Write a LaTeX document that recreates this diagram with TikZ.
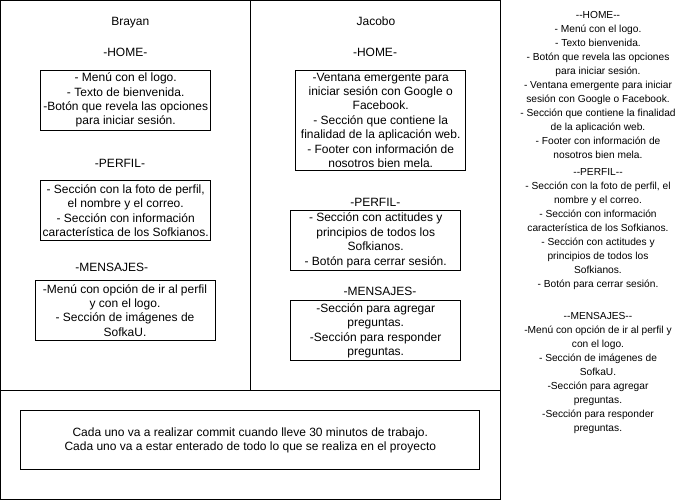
\documentclass[tikz,border=0pt]{standalone}
\usepackage{fontspec}
\newfontfamily\dfont{Liberation Sans}
\newcommand\mainf{\dfont\fontsize{12}{14.4}\selectfont}
\newcommand\smallf{\dfont\fontsize{10.2}{14.0}\selectfont}
\begin{document}
\begin{tikzpicture}[x=1pt,y=-1pt,
  frame/.style={draw=black,line width=1pt},
  box/.style={draw=black,line width=1pt,align=center,inner sep=0pt,font=\mainf,minimum width=170pt,minimum height=60pt},
  lbl/.style={align=center,inner sep=0pt,font=\mainf,anchor=base},
  side/.style={align=center,inner sep=0pt,font=\smallf},
]
\useasboundingbox (0,0) rectangle (681,501);
% frames
\draw[frame] (0.7,0.7) rectangle (250.5,390.7);
\draw[frame] (250.5,0.7) rectangle (500,390.7);
\draw[frame] (0.7,390.7) rectangle (500,499.3);

% left column: Brayan
\node[lbl] (brayan) at (130.3,25) {Brayan};
\node[lbl] (bhome) at (125.3,56) {-HOME-};
\node[box] (bhomebox) at (125.7,100.2) {- Menú con el logo.\\- Texto de bienvenida.\\-Botón que revela las opciones\\para iniciar sesión.};
\node[lbl] (bperfil) at (120,167) {-PERFIL-};
\node[box] (bperfilbox) at (125.7,210.7) {- Sección con la foto de perfil,\\el nombre y el correo.\\- Sección con información\\característica de los Sofkianos.};
\node[lbl] (bmens) at (111.7,271.6) {-MENSAJES-};
\node[box,minimum width=180pt] (bmensbox) at (125,310.3) {-Menú con opción de ir al perfil\\y con el logo.\\- Sección de imágenes de\\SofkaU.};

% right column: Jacobo
\node[lbl] (jacobo) at (376,25) {Jacobo};
\node[lbl] (jhome) at (375,56) {-HOME-};
\node[box,minimum height=100pt] (jhomebox) at (380.7,120.3) {-Ventana emergente para\\iniciar sesión con Google o\\Facebook.\\- Sección que contiene la\\finalidad de la aplicación web.\\- Footer con información de\\nosotros bien mela.};
\node[lbl] (jperfil) at (375.3,206.3) {-PERFIL-};
\node[box] (jperfilbox) at (375.7,240.3) {- Sección con actitudes y\\principios de todos los\\Sofkianos.\\- Botón para cerrar sesión.};
\node[lbl] (jmens) at (380,295) {-MENSAJES-};
\node[box] (jmensbox) at (375.7,330.7) {-Sección para agregar\\preguntas.\\-Sección para responder\\preguntas.};

% bottom
\node[box,minimum width=459.3pt,minimum height=59.3pt] (rules) at (250.3,440.3) {Cada uno va a realizar commit cuando lleve 30 minutos de trabajo.\\Cada uno va a estar enterado de todo lo que se realiza en el proyecto};

% side summary
\node[side] (summary) at (598,222.7) {--HOME--\\- Menú con el logo.\\- Texto bienvenida.\\- Botón que revela las opciones\\para iniciar sesión.\\- Ventana emergente para iniciar\\sesión con Google o Facebook.\\- Sección que contiene la finalidad\\de la aplicación web.\\- Footer con información de\\nosotros bien mela.\\[2.5pt]--PERFIL--\\- Sección con la foto de perfil, el\\nombre y el correo.\\- Sección con información\\característica de los Sofkianos.\\- Sección con actitudes y\\principios de todos los\\Sofkianos.\\- Botón para cerrar sesión.\\[18pt]--MENSAJES--\\-Menú con opción de ir al perfil y\\con el logo.\\- Sección de imágenes de\\SofkaU.\\-Sección para agregar\\preguntas.\\-Sección para responder\\preguntas.};
\end{tikzpicture}
\end{document}
